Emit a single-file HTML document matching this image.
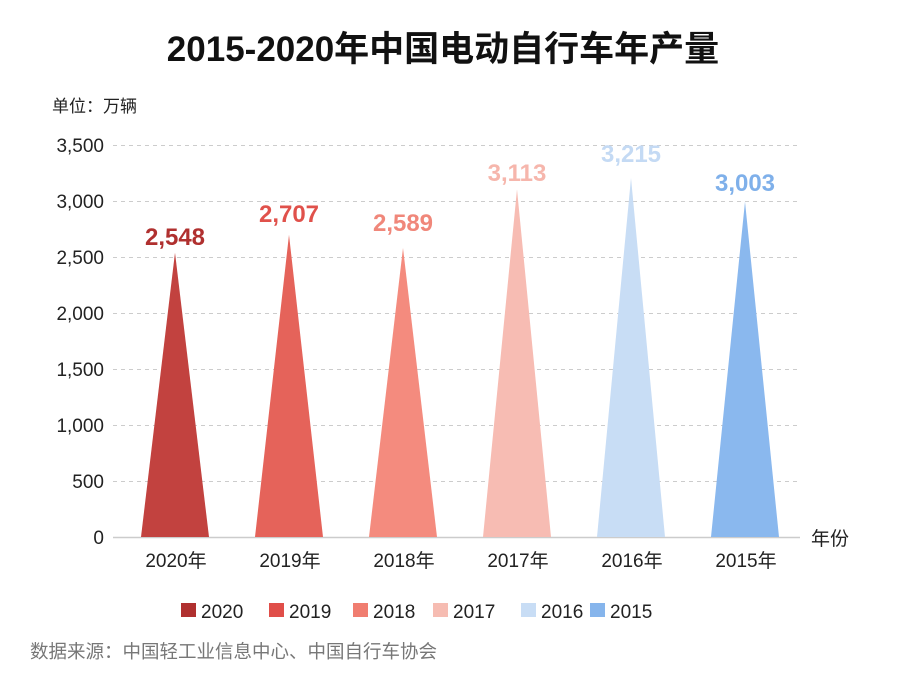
<!DOCTYPE html>
<html><head><meta charset="utf-8"><style>
body{margin:0;width:900px;height:675px;background:#fff;overflow:hidden}
svg{font-family:"Liberation Sans","Noto Sans CJK SC",sans-serif}
</style></head><body>
<svg width="900" height="675" viewBox="0 0 900 675">
<text x="443" y="61" text-anchor="middle" font-size="35" font-weight="bold" fill="#111">2015-2020年中国电动自行车年产量</text>
<text x="52" y="112" font-size="17" fill="#222">单位：万辆</text>
<g stroke="#ccc" stroke-dasharray="4,4" stroke-width="1">
<line x1="113" x2="800" y1="145.5" y2="145.5"/><line x1="113" x2="800" y1="201.5" y2="201.5"/>
<line x1="113" x2="800" y1="257.5" y2="257.5"/><line x1="113" x2="800" y1="313.5" y2="313.5"/>
<line x1="113" x2="800" y1="369.5" y2="369.5"/><line x1="113" x2="800" y1="425.5" y2="425.5"/>
<line x1="113" x2="800" y1="481.5" y2="481.5"/>
</g>
<line x1="113" x2="800" y1="537.5" y2="537.5" stroke="#ccc" stroke-width="1.5"/>
<g font-size="19" fill="#222" text-anchor="end">
<text x="104" y="152">3,500</text><text x="104" y="208">3,000</text><text x="104" y="264">2,500</text>
<text x="104" y="320">2,000</text><text x="104" y="376">1,500</text><text x="104" y="432">1,000</text>
<text x="104" y="488">500</text><text x="104" y="544">0</text>
</g>
<g>
<polygon points="141,537 209,537 175,252.6" fill="#c2423f"/>
<polygon points="255,537 323,537 289,234.8" fill="#e5635a"/>
<polygon points="369,537 437,537 403,248" fill="#f48b7e"/>
<polygon points="483,537 551,537 517,189.4" fill="#f7bcb3"/>
<polygon points="597,537 665,537 631,178" fill="#c8ddf5"/>
<polygon points="711,537 779,537 745,201.6" fill="#8ab8ee"/>
</g>
<g font-size="24" text-anchor="middle" font-weight="bold">
<text x="175" y="245" fill="#b0302f">2,548</text>
<text x="289" y="222" fill="#e0514b">2,707</text>
<text x="403" y="231" fill="#f0877a">2,589</text>
<text x="517" y="181" fill="#f6b6ac">3,113</text>
<text x="631" y="162" fill="#c4daf4">3,215</text>
<text x="745" y="191" fill="#7fb0ea">3,003</text>
</g>
<g font-size="19" fill="#222" text-anchor="middle">
<text x="176" y="567">2020年</text><text x="290" y="567">2019年</text><text x="404" y="567">2018年</text>
<text x="518" y="567">2017年</text><text x="632" y="567">2016年</text><text x="746" y="567">2015年</text>
<text x="830" y="545">年份</text>
</g>
<g font-size="19" fill="#222">
<rect x="181" y="603" width="15" height="14" fill="#b0302f"/><text x="201" y="618">2020</text>
<rect x="269" y="603" width="15" height="14" fill="#e04e49"/><text x="289" y="618">2019</text>
<rect x="353" y="603" width="15" height="14" fill="#f07d70"/><text x="373" y="618">2018</text>
<rect x="433" y="603" width="15" height="14" fill="#f6bcb2"/><text x="453" y="618">2017</text>
<rect x="521" y="603" width="15" height="14" fill="#c8ddf5"/><text x="541" y="618">2016</text>
<rect x="590" y="603" width="15" height="14" fill="#86b5ec"/><text x="610" y="618">2015</text>
</g>
<text x="30" y="658" font-size="18.5" fill="#777">数据来源：中国轻工业信息中心、中国自行车协会</text>
</svg>
</body></html>
